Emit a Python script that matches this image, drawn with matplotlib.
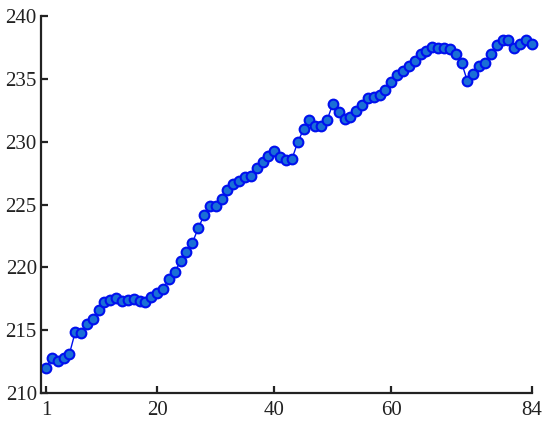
import matplotlib
matplotlib.use('Agg')
from matplotlib import pyplot as plt
import numpy as np

# sample index and measured values
xs = list(range(1, 85))
values = [
    212.0, 212.8, 212.55, 212.75, 213.1, 214.85, 214.8, 215.5, 215.9, 216.6,
    217.25, 217.4, 217.55, 217.3, 217.4, 217.45, 217.35, 217.25, 217.65, 217.95,
    218.3, 219.1, 219.65, 220.5, 221.25, 221.95, 223.1, 224.15, 224.9, 224.9,
    225.45, 226.15, 226.6, 226.85, 227.2, 227.25, 227.9, 228.4, 228.85, 229.25,
    228.75, 228.55, 228.6, 229.95, 231.0, 231.7, 231.25, 231.25, 231.7, 233.0,
    232.35, 231.85, 231.95, 232.45, 232.9, 233.5, 233.6, 233.7, 234.15, 234.75,
    235.3, 235.6, 236.05, 236.45, 236.95, 237.25, 237.55, 237.5, 237.5, 237.4,
    237.0, 236.3, 234.8, 235.4, 236.0, 236.3, 237.0, 237.7, 238.1, 238.1,
    237.5, 237.8, 238.1, 237.8,
]
xticks = [1, 20, 40, 60, 84]
yticks = [210, 215, 220, 225, 230, 235, 240]

plt.rcParams['font.family'] = ['Liberation Serif', 'DejaVu Serif']

fig = plt.figure(figsize=(5.5, 4.25), dpi=100)
ax = fig.add_axes([0.0745, 0.0753, 0.8925, 0.8867])

ax.plot(xs, values, color='#0010ee', linewidth=1.0, marker='o',
        markersize=7, markerfacecolor='#1a6fd6', markeredgecolor='#0010ee',
        markeredgewidth=1.5, clip_on=False)

ax.set_xlim(0.15, 84)
ax.set_ylim(210, 240)
ax.set_xticks(xticks)
ax.set_yticks(yticks)

for side in ['top', 'right']:
    ax.spines[side].set_visible(False)
for side in ['left', 'bottom']:
    ax.spines[side].set_linewidth(1.6)
    ax.spines[side].set_color('#222222')
ax.tick_params(direction='in', length=5, width=1.6, labelsize=15,
               color='#222222', labelcolor='#222222')
ax.tick_params(axis='x', pad=6)
ax.tick_params(axis='y', pad=3)

fig.savefig('out.png', dpi=100)
